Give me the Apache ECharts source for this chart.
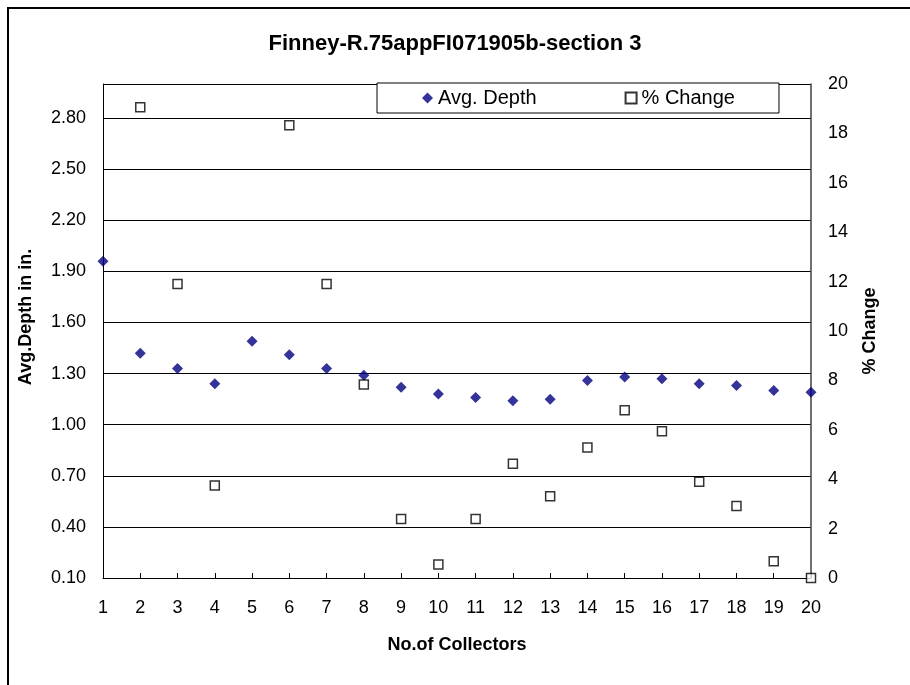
<!DOCTYPE html>
<html>
<head>
<meta charset="utf-8">
<script src="https://cdn.jsdelivr.net/npm/echarts@6/dist/echarts.min.js"></script>
<style>
  html, body { margin: 0; padding: 0; background: #fff; }
  #chart { width: 910px; height: 685px; }
</style>
</head>
<body>
<div id="chart"></div>
<script>
var collectors = ['1', '2', '3', '4', '5', '6', '7', '8', '9', '10',
  '11', '12', '13', '14', '15', '16', '17', '18', '19', '20'];
var avgDepth = [1.96, 1.42, 1.33, 1.24, 1.49, 1.41, 1.33, 1.29, 1.22, 1.18,
  1.16, 1.14, 1.15, 1.26, 1.28, 1.27, 1.24, 1.23, 1.20, 1.19];
// points 1 and 5 are not visible in the picture
var pctChange = [null, 19.06, 11.9, 3.75, null, 18.33, 11.9, 7.83, 2.39, 0.55,
  2.39, 4.63, 3.31, 5.28, 6.79, 5.94, 3.9, 2.91, 0.68, 0];

var fontFam = '"Liberation Sans", Arial, sans-serif';

var dom = document.getElementById('chart');
var myChart = echarts.init(dom, null, { renderer: 'canvas' });

var option = {
  backgroundColor: '#fff',
  animation: false,
  textStyle: { fontFamily: fontFam, color: '#000' },
  title: {
    text: 'Finney-R.75appFI071905b-section 3',
    left: 'center',
    top: 33,
    padding: 0,
    textStyle: { fontSize: 22, fontWeight: 'bold', color: '#000', fontFamily: fontFam }
  },
  legend: {
    left: 377,
    top: 83,
    padding: [5, 44, 5, 45],
    itemGap: 88,
    itemWidth: 11,
    itemHeight: 11,
    borderColor: '#000',
    borderWidth: 1,
    backgroundColor: '#fff',
    z: 10,
    textStyle: { fontSize: 20, color: '#000', fontFamily: fontFam },
    data: ['Avg. Depth', '% Change']
  },
  grid: { left: 103, right: 99, top: 84, bottom: 107 },
  xAxis: {
    type: 'category',
    data: collectors,
    boundaryGap: false,
    name: 'No.of Collectors',
    nameLocation: 'middle',
    nameGap: 58,
    nameTextStyle: { fontSize: 18, fontWeight: 'bold', color: '#000' },
    axisLine: { lineStyle: { color: '#000', width: 1 } },
    axisTick: { inside: true, length: 5, lineStyle: { color: '#000' } },
    axisLabel: { fontSize: 18, color: '#000', margin: 21 },
    splitLine: { show: false }
  },
  yAxis: [{
    type: 'value',
    min: 0.1,
    max: 3.0,
    interval: 0.3,
    name: 'Avg.Depth in in.',
    nameLocation: 'middle',
    nameGap: 68,
    nameTextStyle: { fontSize: 18, fontWeight: 'bold', color: '#000', padding: [0, 0, 0, 28] },
    axisLine: { show: true, lineStyle: { color: '#000', width: 1 } },
    axisTick: { show: false },
    axisLabel: {
      fontSize: 18, color: '#000', margin: 17, showMaxLabel: false,
      formatter: function (v) { return v.toFixed(2); }
    },
    splitLine: { show: true, lineStyle: { color: '#000', width: 1 } }
  }, {
    type: 'value',
    min: 0,
    max: 20,
    interval: 2,
    position: 'right',
    name: '% Change',
    nameLocation: 'middle',
    nameGap: 50,
    nameTextStyle: { fontSize: 18, fontWeight: 'bold', color: '#000' },
    axisLine: { show: true, lineStyle: { color: '#404040', width: 1.5 } },
    axisTick: { show: false },
    axisLabel: { fontSize: 18, color: '#000', margin: 17 },
    splitLine: { show: false }
  }],
  series: [{
    name: 'Avg. Depth',
    type: 'scatter',
    yAxisIndex: 0,
    symbol: 'diamond',
    symbolSize: 11,
    itemStyle: { color: '#000080' },
    data: avgDepth,
    z: 3
  }, {
    name: '% Change',
    type: 'scatter',
    yAxisIndex: 1,
    symbol: 'rect',
    symbolSize: 9,
    itemStyle: { color: '#fff', borderColor: '#000', borderWidth: 1.5 },
    data: pctChange,
    z: 4
  }],
  graphic: [{
    type: 'rect',
    shape: { x: 8, y: 8, width: 1000, height: 1000 },
    style: { fill: 'none', stroke: '#000', lineWidth: 2 },
    silent: true
  }]
};

if (option && typeof option === 'object') {
  myChart.setOption(option);
}

window.addEventListener('resize', myChart.resize);
</script>
</body>
</html>
